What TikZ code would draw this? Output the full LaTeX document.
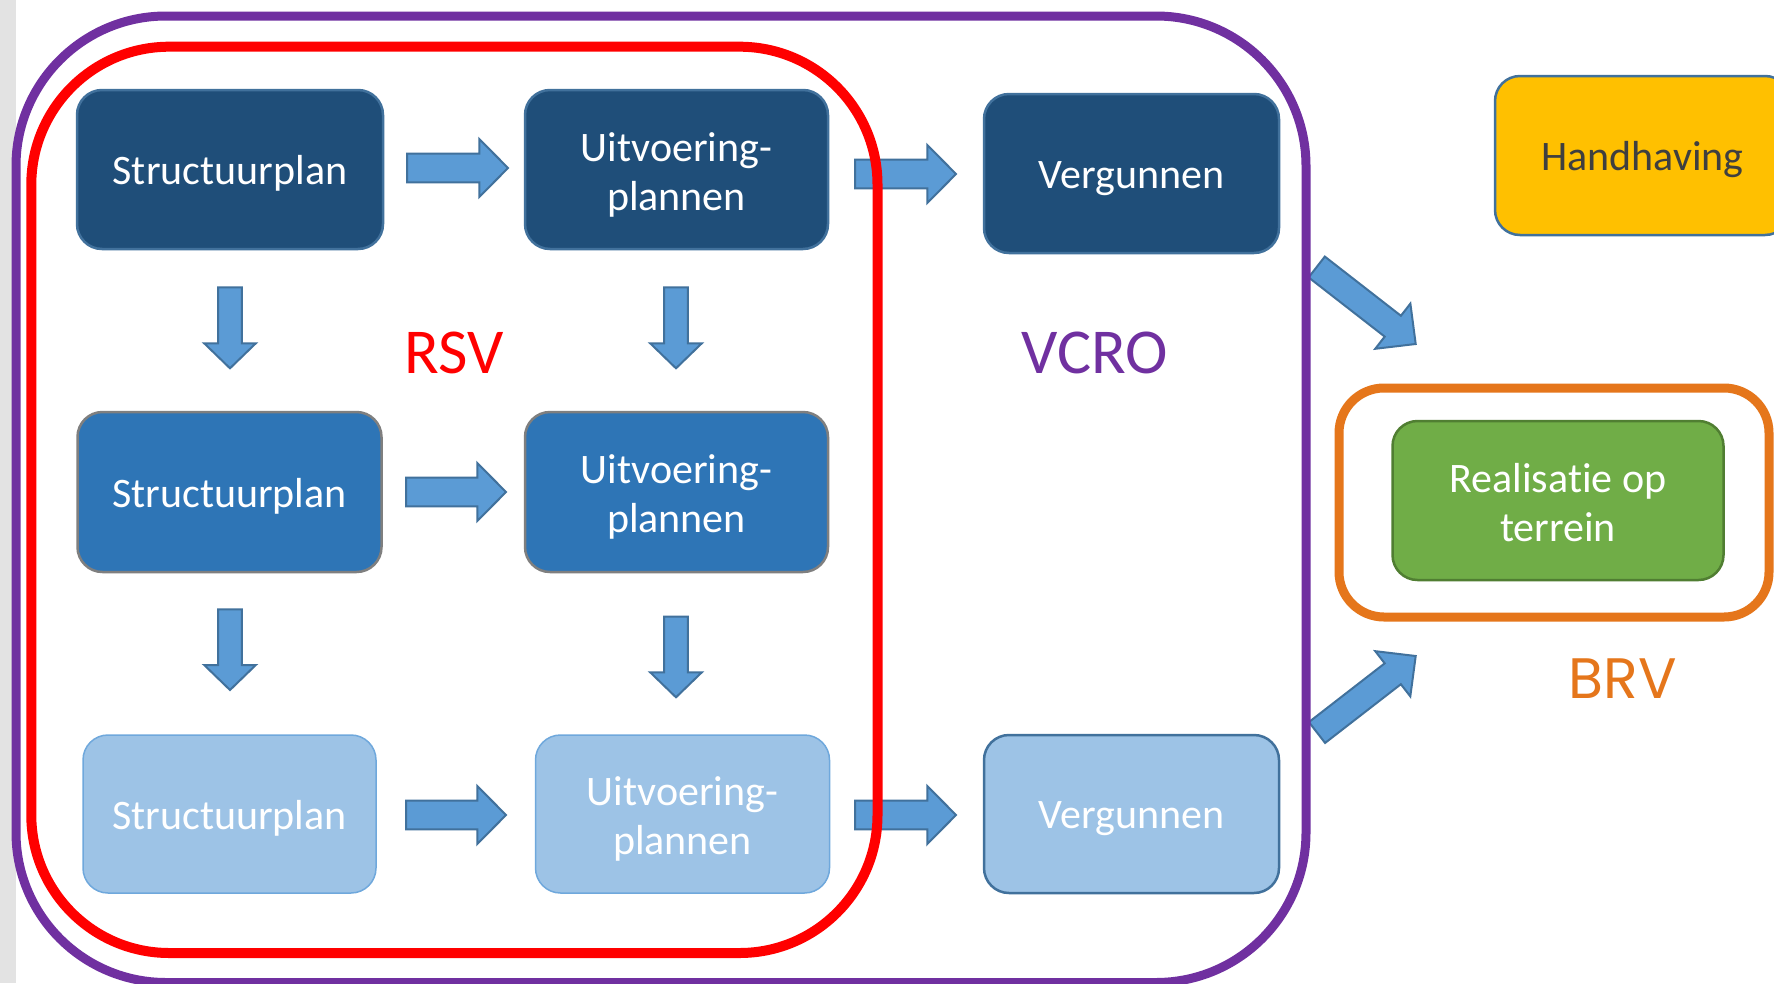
\documentclass[tikz,border=0pt]{standalone}
\usepackage{fontspec}
\setmainfont{Carlito}[Ligatures=NoCommon]
\newfontfamily\brvfont{Poppins}
\usetikzlibrary{calc}

\definecolor{navy}{HTML}{1F4E79}
\definecolor{midblue}{HTML}{2E75B6}
\definecolor{lightblue}{HTML}{9DC3E6}
\definecolor{arrowfill}{HTML}{5B9BD5}
\definecolor{arrowline}{HTML}{41719C}
\definecolor{purp}{HTML}{7030A0}
\definecolor{orng}{HTML}{E5761B}
\definecolor{grn}{HTML}{70AD47}
\definecolor{grnline}{HTML}{507E32}
\definecolor{gold}{HTML}{FFC000}
\definecolor{greystrip}{HTML}{E3E3E3}
\definecolor{rowtwoline}{HTML}{7F7F7F}
\definecolor{rowthreeline}{HTML}{6FA8DC}
\definecolor{darktext}{HTML}{3F3F3F}

\tikzset{
  boxbase/.style={rectangle, rounded corners=25pt, inner sep=0pt, line width=2.5pt},
  darkbox/.style={boxbase, fill=navy, draw=arrowline},
  midbox/.style={boxbase, fill=midblue, draw=rowtwoline},
  lightbox/.style={boxbase, fill=lightblue, draw=rowthreeline, line width=1.5pt},
  lightboxb/.style={boxbase, fill=lightblue, draw=arrowline},
  goldbox/.style={boxbase, fill=gold, draw=arrowline},
  greenbox/.style={boxbase, fill=grn, draw=grnline},
  boxtext/.style={inner sep=0pt, align=center, font=\fontsize{42}{49}\selectfont, text=white},
  blockarrow/.style={fill=arrowfill, draw=arrowline, line width=2pt, line join=miter},
  biglabel/.style={font=\fontsize{64}{70}\selectfont, anchor=base, inner sep=0pt},
}

\newcommand{\blkarrow}[5]{%
  \coordinate (bh) at ($(#2)!#5!(#1)$);
  \draw[blockarrow] ($(#1)!#3!90:(#2)$) -- ($(bh)!#3!90:(#2)$) -- ($(bh)!#4!90:(#2)$)
    -- (#2) -- ($(bh)!#4!-90:(#2)$) -- ($(bh)!#3!-90:(#2)$) -- ($(#1)!#3!-90:(#2)$) -- cycle;}

\begin{document}
\begin{tikzpicture}[x=1pt,y=-1pt]
\useasboundingbox (0,0) rectangle (1774,983);
\clip (0,0) rectangle (1774,983);
\fill[white] (0,0) rectangle (1774,983);
\fill[greystrip] (0,0) rectangle (16,983);

% boxes
\node[darkbox, minimum width=306pt, minimum height=159pt] (s1) at (230,169.5) {};
\node[darkbox, minimum width=303pt, minimum height=159pt] (u1) at (676.5,169.5) {};
\node[darkbox, minimum width=295pt, minimum height=159pt] (v1) at (1131.5,173.5) {};
\node[midbox, minimum width=304pt, minimum height=160pt] (s2) at (229.5,492) {};
\node[midbox, minimum width=303pt, minimum height=160pt] (u2) at (676.5,492) {};
\node[lightbox, minimum width=293pt, minimum height=158pt] (s3) at (229.5,814) {};
\node[lightbox, minimum width=294pt, minimum height=158pt] (u3) at (682.5,814) {};
\node[lightboxb, minimum width=295pt, minimum height=158pt] (v3) at (1131.5,814) {};
\node[goldbox, minimum width=295pt, minimum height=159pt] (hh) at (1642.5,155.5) {};
\node[greenbox, minimum width=331pt, minimum height=159pt] (real) at (1558,500.5) {};

% box texts
\node[boxtext] (s1t) at ([yshift=-4pt]s1.center) {Structuurplan};
\node[boxtext] (u1t) at ([yshift=-5pt]u1.center) {Uitvoering-\\plannen};
\node[boxtext] (v1t) at ([yshift=-5pt]v1.center) {Vergunnen};
\node[boxtext] (s2t) at ([yshift=-4pt]s2.center) {Structuurplan};
\node[boxtext] (u2t) at ([yshift=-5pt]u2.center) {Uitvoering-\\plannen};
\node[boxtext] (s3t) at ([yshift=-4pt]s3.center) {Structuurplan};
\node[boxtext] (u3t) at ([yshift=-5pt]u3.center) {Uitvoering-\\plannen};
\node[boxtext] (v3t) at ([yshift=-5pt]v3.center) {Vergunnen};
\node[boxtext, text=darktext] (hht) at ([yshift=-4.5pt]hh.center) {Handhaving};
\node[boxtext] (realt) at ([yshift=-2.5pt]real.center) {Realisatie op\\terrein};

% arrow end points
\coordinate (a1t) at (407,168);   \coordinate (a1h) at (508,168);
\coordinate (a2t) at (855,174);   \coordinate (a2h) at (956,174);
\coordinate (a3t) at (406,492);   \coordinate (a3h) at (506,492);
\coordinate (a4t) at (406,815);   \coordinate (a4h) at (506,815);
\coordinate (a5t) at (855,815);   \coordinate (a5h) at (956,815);
\coordinate (d1t) at (230,287.3); \coordinate (d1h) at (230,368.3);
\coordinate (d2t) at (676,287.3); \coordinate (d2h) at (676,368.3);
\coordinate (d3t) at (230,609.3); \coordinate (d3h) at (230,690);
\coordinate (d4t) at (676,616.7); \coordinate (d4h) at (676,697.3);
\coordinate (g1t) at (1316.7,267); \coordinate (g1h) at (1415.7,344);
\coordinate (g2t) at (1317,732.5); \coordinate (g2h) at (1415.7,656);

\blkarrow{a1t}{a1h}{14.3pt}{29pt}{28.7pt}
\blkarrow{a2t}{a2h}{14.3pt}{29pt}{28.7pt}
\blkarrow{a3t}{a3h}{14.3pt}{29pt}{28.7pt}
\blkarrow{a4t}{a4h}{14.3pt}{29pt}{28.7pt}
\blkarrow{a5t}{a5h}{14.3pt}{29pt}{28.7pt}
\blkarrow{d1t}{d1h}{11.8pt}{25.8pt}{25pt}
\blkarrow{d2t}{d2h}{11.8pt}{25.8pt}{25pt}
\blkarrow{d3t}{d3h}{11.8pt}{25.8pt}{25pt}
\blkarrow{d4t}{d4h}{11.8pt}{25.8pt}{25pt}
\blkarrow{g1t}{g1h}{13.2pt}{28.6pt}{29pt}
\blkarrow{g2t}{g2h}{13.2pt}{28.6pt}{29pt}

% container outlines
\draw[red, line width=10pt, rounded corners=138pt] (31.3,46.7) rectangle (877.5,953);
\draw[purp, line width=9pt, rounded corners=150pt] (16,16) rectangle (1306,982.5);
\draw[orng, line width=9pt, rounded corners=45pt] (1339,388) rectangle (1769,617);

% labels
\node[biglabel, text=red] (rsv) at (454,373.3) {RSV};
\node[biglabel, text=purp] (vcro) at (1094.5,373.3) {VCRO};
\node[biglabel, text=orng, font=\brvfont\fontsize{57}{62}\selectfont] (brv) at (1622.5,698.3) {BRV};
\end{tikzpicture}
\end{document}
